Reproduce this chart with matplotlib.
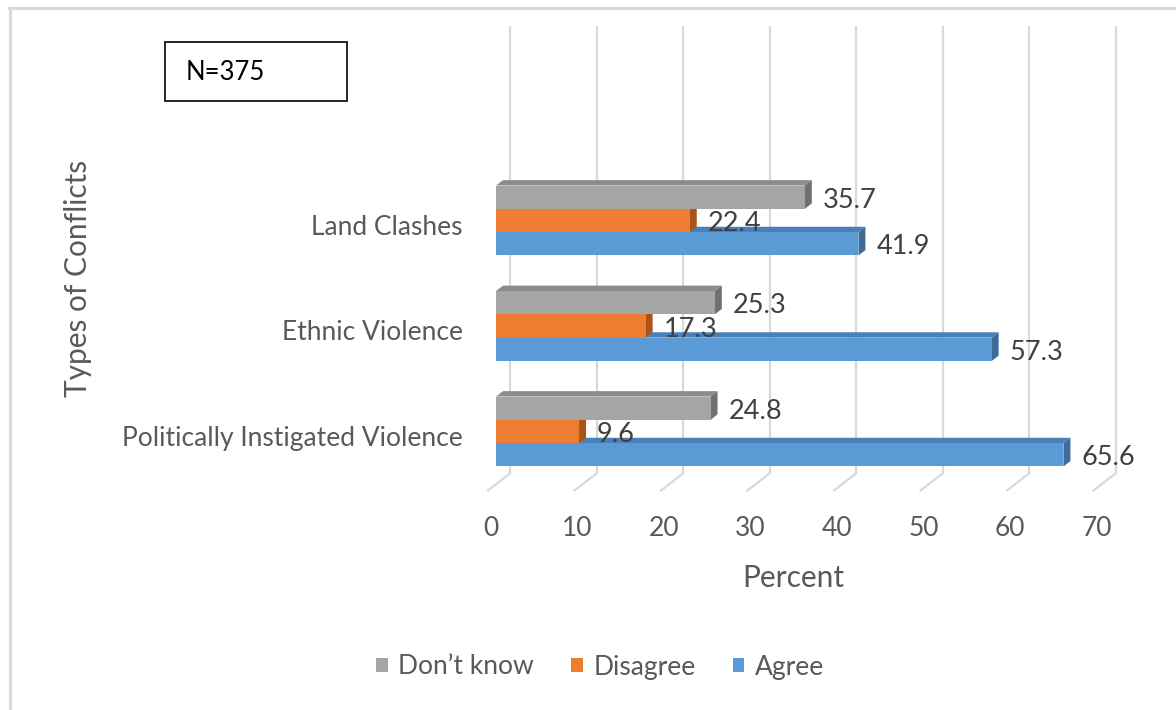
import matplotlib.pyplot as plt
from matplotlib.patches import Polygon, Rectangle, Patch
from matplotlib.lines import Line2D

plt.rcParams['font.family'] = ['Lato', 'DejaVu Sans']

categories = ["Politically Instigated Violence", "Ethnic Violence", "Land Clashes"]
series = ["Agree", "Disagree", "Don\u2019t know"]
agree = [65.6, 57.3, 41.9]
disagree = [9.6, 17.3, 22.4]
dont_know = [24.8, 25.3, 35.7]
x_ticks = [0, 10, 20, 30, 40, 50, 60, 70]

front_colors = ["#5B9BD5", "#ED7D31", "#A5A5A5"]
top_colors = ["#4A80B8", "#C8661F", "#8C8C8C"]
side_colors = ["#3E6C9A", "#A9551A", "#707070"]
label_color = "#595959"
grid_color = "#D9D9D9"
fs = 19
title_fs = 21.5

W, H = 1176, 710
fig = plt.figure(figsize=(W / 100, H / 100), dpi=100)

# layout of the bar front plane in pixels
x0_px, px_per_unit = 496, 8.65
y0_px, px_per_cat = 431.5, 105.5
xlim = (-1.5, 73.5)
ylim = (-0.75, 3.9)
left = x0_px + xlim[0] * px_per_unit
right = x0_px + xlim[1] * px_per_unit
top = y0_px - ylim[1] * px_per_cat
bottom = y0_px - ylim[0] * px_per_cat
ax = fig.add_axes([left / W, 1 - bottom / H, (right - left) / W, (bottom - top) / H])
ax.set_xlim(*xlim)
ax.set_ylim(*ylim)
ax.axis('off')


def depth(dx, dy):
    # screen pixel shift (right, up) -> data units
    return dx / px_per_unit, dy / px_per_cat


bar_dx, bar_dy = depth(7, 5.4)
back_dx, back_dy = depth(14, 10.8)
front_dx, front_dy = depth(-8, -6.2)
floor = -0.5
wall_top = 3.83

# back wall gridlines and floor diagonals
for v in x_ticks:
    ax.add_line(Line2D([v + back_dx, v + back_dx], [floor + back_dy, wall_top],
                       color=grid_color, lw=1.6, zorder=1, clip_on=False))
    ax.add_line(Line2D([v + back_dx, v + front_dx], [floor + back_dy, floor + front_dy],
                       color=grid_color, lw=1.6, zorder=1, clip_on=False))

h = 0.221
values = [agree, disagree, dont_know]
z = 2
for c in range(len(categories)):
    for i, vals in enumerate(values):
        v = vals[c]
        b = c - 1.5 * h + i * h
        ax.barh(b, v, height=h, align='edge', color=front_colors[i], zorder=z + 0.5)
        ax.add_patch(Polygon([(0, b + h), (v, b + h), (v + bar_dx, b + h + bar_dy),
                              (bar_dx, b + h + bar_dy)], closed=True,
                             facecolor=top_colors[i], edgecolor='none', zorder=z))
        ax.add_patch(Polygon([(v, b), (v + bar_dx, b + bar_dy), (v + bar_dx, b + h + bar_dy),
                              (v, b + h)], closed=True,
                             facecolor=side_colors[i], edgecolor='none', zorder=z))
        ax.annotate(f"{v:.1f}", xy=(v, b + h / 2), xytext=(13, -2.2), textcoords='offset points',
                    ha='left', va='center', fontsize=19.5, color="#404040", zorder=20)
        z += 1

for c, name in enumerate(categories):
    ax.annotate(name, xy=(0, c), xytext=(-23.8, -5), textcoords='offset points',
                ha='right', va='center', fontsize=fs, color=label_color)

for v in x_ticks:
    ax.annotate(str(v), xy=(v, floor), xytext=(-3.6, -31.8), textcoords='offset points',
                ha='center', va='center', fontsize=fs, color=label_color)

fig.text(793 / W, 1 - 578 / H, "Percent", ha='center', va='center', fontsize=title_fs,
         color=label_color)
fig.text(78 / W, 1 - 278 / H, "Types of Conflicts", ha='center', va='center', rotation=90,
         fontsize=title_fs, color=label_color)

handles = [Patch(facecolor=front_colors[i]) for i in (2, 1, 0)]
fig.legend(handles, [series[i] for i in (2, 1, 0)], loc='center', bbox_to_anchor=(600 / W, 1 - 667 / H),
           ncol=3, frameon=False, fontsize=fs, labelcolor=label_color, handlelength=0.45,
           handleheight=0.45, handletextpad=0.4, columnspacing=1.4)

# sample size box
fig.patches.append(Rectangle((165 / W, 1 - 101 / H), 182 / W, 59 / H, transform=fig.transFigure,
                             facecolor='white', edgecolor='black', lw=1.2))
fig.text(186 / W, 1 - 72 / H, "N=375", ha='left', va='center', fontsize=18.5, color='black')

# chart area outline
fig.add_artist(Line2D([9 / W, 1], [1 - 7.5 / H, 1 - 7.5 / H], color=grid_color, lw=2.2,
                      transform=fig.transFigure))
fig.add_artist(Line2D([9.5 / W, 9.5 / W], [0, 1 - 7.5 / H], color=grid_color, lw=2.2,
                      transform=fig.transFigure))

fig.savefig("out.png", dpi=100)
